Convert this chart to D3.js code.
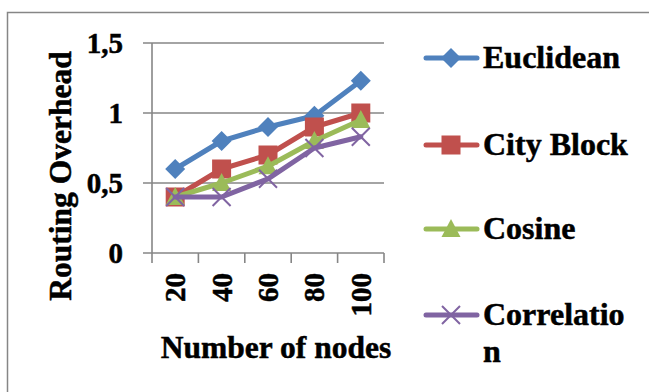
<!DOCTYPE html>
<html>
<head>
<meta charset="utf-8">
<script src="https://cdn.jsdelivr.net/npm/d3@7"></script>
<style>
  html, body { margin: 0; padding: 0; background: #fff; }
  svg { display: block; }
  text { font-family: "Liberation Serif", "Times New Roman", serif; font-weight: bold; fill: #000; stroke: #000; stroke-width: 0.5px; }
</style>
</head>
<body>
<svg id="chart" width="649" height="392"></svg>
<script>
// Routing overhead vs. number of nodes for four distance measures
const categories = ["20", "40", "60", "80", "100"];
const euclidean   = [0.60, 0.80, 0.90, 0.98, 1.23];
const cityBlock   = [0.40, 0.60, 0.70, 0.90, 1.00];
const cosine      = [0.40, 0.50, 0.62, 0.80, 0.95];
const correlation = [0.40, 0.40, 0.53, 0.75, 0.83];
const seriesNames = ["Euclidean", "City Block", "Cosine", "Correlation"];
const yTicks = [0, 0.5, 1, 1.5];
const yTickLabels = ["0", "0,5", "1", "1,5"];

const series = [
  { name: seriesNames[0], values: euclidean,   color: "#4F81BD", marker: "diamond" },
  { name: seriesNames[1], values: cityBlock,   color: "#C0504D", marker: "square" },
  { name: seriesNames[2], values: cosine,      color: "#9BBB59", marker: "triangle" },
  { name: seriesNames[3], values: correlation, color: "#8064A2", marker: "cross" }
];

const svg = d3.select("#chart");
const gridColor = "#868686";

// outer chart frame
svg.append("rect")
  .attr("x", 7.5).attr("y", 12.5).attr("width", 660).attr("height", 400)
  .attr("fill", "none").attr("stroke", gridColor).attr("stroke-width", 1.5);

const plot = { left: 152, right: 384, top: 43, bottom: 253 };

const x = d3.scaleBand().domain(categories).range([plot.left, plot.right]).padding(0);
const y = d3.scaleLinear().domain([0, 1.5]).range([plot.bottom, plot.top]);
const cx = c => x(c) + x.bandwidth() / 2;

// horizontal gridlines with left tick stubs
yTicks.forEach(v => {
  svg.append("line")
    .attr("x1", plot.left - 9).attr("x2", plot.right)
    .attr("y1", y(v)).attr("y2", y(v))
    .attr("stroke", gridColor).attr("stroke-width", 1.6);
});

// vertical axis line
svg.append("line")
  .attr("x1", plot.left).attr("x2", plot.left)
  .attr("y1", plot.top).attr("y2", plot.bottom + 10)
  .attr("stroke", gridColor).attr("stroke-width", 1.6);

// category boundary ticks below the x axis
categories.forEach(c => {
  const bx = x(c) + x.bandwidth();
  svg.append("line")
    .attr("x1", bx).attr("x2", bx)
    .attr("y1", plot.bottom).attr("y2", plot.bottom + 10)
    .attr("stroke", gridColor).attr("stroke-width", 1.6);
});

// y tick labels
yTicks.forEach((v, i) => {
  svg.append("text")
    .attr("x", 123).attr("y", y(v) + 10)
    .attr("text-anchor", "end")
    .style("font-size", "29px")
    .text(yTickLabels[i]);
});

// x tick labels, rotated
categories.forEach(c => {
  svg.append("text")
    .attr("transform", `translate(${cx(c) + 10},${273}) rotate(-90)`)
    .attr("text-anchor", "end")
    .style("font-size", "29px")
    .text(c);
});

// axis titles
svg.append("text")
  .attr("transform", `translate(71,176) rotate(-90)`)
  .attr("text-anchor", "middle")
  .style("font-size", "31.5px")
  .text("Routing Overhead");

svg.append("text")
  .attr("x", 276).attr("y", 358)
  .attr("text-anchor", "middle")
  .style("font-size", "31.5px")
  .text("Number of nodes");

// marker drawing
function drawMarker(g, type, px, py, color) {
  if (type === "diamond") {
    g.append("path")
      .attr("d", `M${px},${py - 10}L${px + 10},${py}L${px},${py + 10}L${px - 10},${py}Z`)
      .attr("fill", color);
  } else if (type === "square") {
    g.append("rect")
      .attr("x", px - 9.5).attr("y", py - 9.5).attr("width", 19).attr("height", 19)
      .attr("fill", color);
  } else if (type === "triangle") {
    g.append("path")
      .attr("d", `M${px},${py - 10}L${px + 9.5},${py + 8}L${px - 9.5},${py + 8}Z`)
      .attr("fill", color);
  } else if (type === "cross") {
    g.append("path")
      .attr("d", `M${px - 9},${py - 9}L${px + 9},${py + 9}M${px - 9},${py + 9}L${px + 9},${py - 9}`)
      .attr("stroke", color).attr("stroke-width", 2).attr("fill", "none");
  }
}

const line = d3.line()
  .x((d, i) => cx(categories[i]))
  .y(d => y(d));

series.forEach(s => {
  const g = svg.append("g");
  g.append("path")
    .attr("d", line(s.values))
    .attr("fill", "none")
    .attr("stroke", s.color)
    .attr("stroke-width", 5)
    .attr("stroke-linejoin", "round")
    .attr("stroke-linecap", "round");
  s.values.forEach((v, i) => drawMarker(g, s.marker, cx(categories[i]), y(v), s.color));
});

// legend
const legendY = [58, 145, 229, 315];
series.forEach((s, i) => {
  const g = svg.append("g");
  const ly = legendY[i];
  g.append("line")
    .attr("x1", 426).attr("x2", 477).attr("y1", ly).attr("y2", ly)
    .attr("stroke", s.color).attr("stroke-width", 5).attr("stroke-linecap", "round");
  drawMarker(g, s.marker, 451, ly, s.color);
  const t = g.append("text")
    .attr("x", 483).attr("y", ly + 10)
    .style("font-size", "32px");
  if (s.name === "Correlation") {
    t.append("tspan").attr("x", 483).text("Correlatio");
    t.append("tspan").attr("x", 483).attr("dy", 37).text("n");
  } else {
    t.text(s.name);
  }
});
</script>
</body>
</html>
